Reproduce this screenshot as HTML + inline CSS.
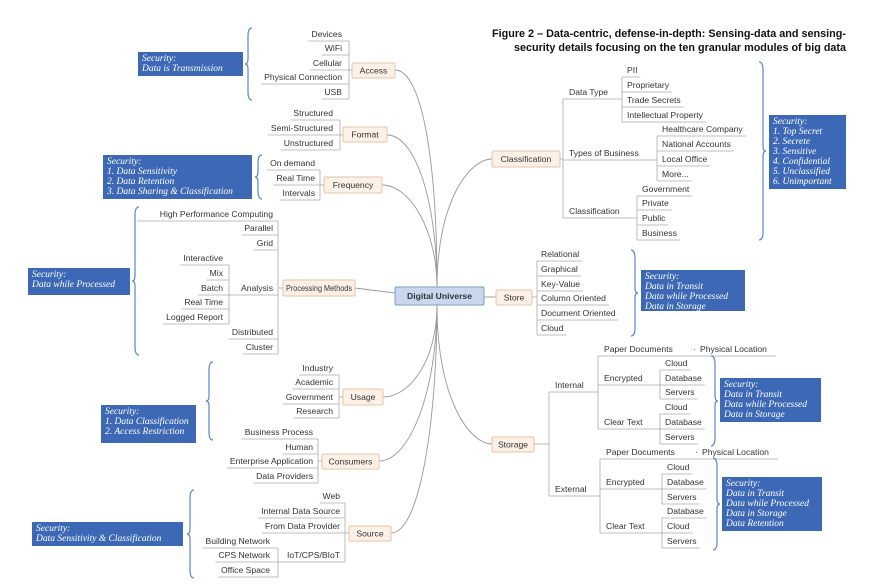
<!DOCTYPE html>
<html><head><meta charset="utf-8"><style>
html,body{margin:0;padding:0;background:#fff;width:885px;height:584px;overflow:hidden}
svg{display:block}
.t{font-family:"Liberation Sans","DejaVu Sans",sans-serif;font-size:8.6px;fill:#333}
.s{font-family:"Liberation Serif","DejaVu Serif",serif;font-size:9.5px;fill:#fff;font-style:italic}
</style></head><body>
<svg id="g" width="885" height="584" xmlns="http://www.w3.org/2000/svg">
<g fill="none" stroke="#999" stroke-width="0.9" id="curves">
<path d="M395,70 C420,70 437,150 437,288"/>
<path d="M387,135 C415,135 437,200 437,288"/>
<path d="M382,185 C410,185 437,230 437,288"/>
<path d="M355,288 L395,293"/>
<path d="M383,397 C410,397 437,360 437,305"/>
<path d="M379,461 C410,461 437,390 437,305"/>
<path d="M391,533 C420,533 437,420 437,305"/>
<path d="M492,159 C470,159 437,200 437,288"/>
<path d="M484,297 L496,297"/>
<path d="M492,444 C470,444 437,400 437,305"/>
</g>
<text x="492" y="37" font-family="Liberation Sans, sans-serif" font-weight="bold" font-size="11" fill="#111" textLength="354" lengthAdjust="spacingAndGlyphs">Figure 2 – Data-centric, defense-in-depth: Sensing-data and sensing-</text>
<text x="514" y="51" font-family="Liberation Sans, sans-serif" font-weight="bold" font-size="11" fill="#111" textLength="332" lengthAdjust="spacingAndGlyphs">security details focusing on the ten granular modules of big data</text>
</svg>
<script>
var S=document.getElementById('g'),NS='http://www.w3.org/2000/svg';
function el(n,a,txt){var e=document.createElementNS(NS,n);for(var k in a)e.setAttribute(k,a[k]);if(txt!=null)e.textContent=txt;S.appendChild(e);return e;}
function line(x1,y1,x2,y2,c){el('line',{x1:x1,y1:y1,x2:x2,y2:y2,stroke:c||'#aaa','stroke-width':0.8});}
function txt(s,x,y,anc,col){var t=el('text',{x:x,y:y+3.2,'class':'t','text-anchor':anc||'start'},s);if(col)t.setAttribute('fill',col);return t.getComputedTextLength();}
function LG(items,bar,gap){gap=gap||5;var ys=[];items.forEach(function(it){var w=txt(it[0],bar-gap,it[1],'end');var x0=(it[2]!=null?it[2]:bar-gap-w-3);line(x0,it[1]+7,bar,it[1]+7);ys.push(it[1]+7);});line(bar,Math.min.apply(0,ys),bar,Math.max.apply(0,ys));}
function RG(items,bar,gap){gap=gap||4;var ys=[];items.forEach(function(it){var w=txt(it[0],bar+gap,it[1],'start');var x1=(it[2]!=null?it[2]:bar+gap+w+3);line(bar,it[1]+7,x1,it[1]+7);ys.push(it[1]+7);});line(bar,Math.min.apply(0,ys),bar,Math.max.apply(0,ys));}
function node(s,x,y,w,h,blue){el('rect',{x:x,y:y,width:w,height:h,rx:1.5,fill:blue?'#c6d7ee':'#fdf1e7',stroke:blue?'#7b9bcb':'#e5c4a6','stroke-width':1});var t=el('text',{x:x+w/2,y:y+h/2+3.2,'class':'t','text-anchor':'middle'},s);if(blue){t.setAttribute('font-weight','bold');t.setAttribute('fill','#444');}if(t.getComputedTextLength()>w-6){t.setAttribute('textLength',w-6);t.setAttribute('lengthAdjust','spacingAndGlyphs');}}
function sec(lines,x,y,w,h){el('rect',{x:x,y:y,width:w,height:h,fill:'#3d68b6'});var sp=10;lines.forEach(function(l,i){el('text',{x:x+4,y:y+9+i*sp,'class':'s'},l);});}
function brace(x,y1,y2,dir){var m=(y1+y2)/2,d=dir;el('path',{d:'M'+(x+4*d)+','+y1+' Q'+x+','+y1+' '+x+','+(y1+8)+' L'+x+','+(m-5)+' Q'+x+','+m+' '+(x-3*d)+','+m+' Q'+x+','+m+' '+x+','+(m+5)+' L'+x+','+(y2-8)+' Q'+x+','+y2+' '+(x+4*d)+','+y2,fill:'none',stroke:'#5b84cc','stroke-width':1.2});}
function conn(x1,y,x2){line(x1,y,x2,y);}

node('Digital Universe',395,287,89,18,true);
LG([['Devices',34],['WiFi',48],['Cellular',63],['Physical Connection',77],['USB',92]],349,7);
conn(349,70,352);node('Access',352,63,43,15);
LG([['Structured',113],['Semi-Structured',128],['Unstructured',143]],340,7);
conn(340,135,343);node('Format',343,127,44,15);
LG([['On demand',163],['Real Time',178],['Intervals',193]],320,5);
conn(320,185,324);node('Frequency',324,177,58,16);
LG([['High Performance Computing',214,137],['Parallel',228],['Grid',243],['Analysis',288,229],['Distributed',332],['Cluster',347]],278,5);
LG([['Interactive',258],['Mix',273],['Batch',288],['Real Time',302],['Logged Report',317]],229,6);
conn(278,288,283);node('Processing Methods',283,280,72,16);
LG([['Industry',368],['Academic',382],['Government',397],['Research',411]],339,6);
conn(339,397,343);node('Usage',343,389,40,16);
LG([['Business Process',432],['Human',447],['Enterprise Application',461],['Data Providers',476]],318,5);
conn(318,461,322);node('Consumers',322,454,57,15);
LG([['Web',496],['Internal Data Source',511],['From Data Provider',526],['IoT/CPS/BIoT',555,278]],345,5);
LG([['Building Network',541],['CPS Network',555],['Office Space',570]],278,8);
conn(345,533,349);node('Source',349,526,42,15);

node('Classification',492,151,68,16);conn(560,159,563);
RG([['Data Type',92,622],['Types of Business',153,657],['Classification',211,637]],563,6);
RG([['PII',70],['Proprietary',85],['Trade Secrets',100],['Intellectual Property',115]],622,5);
RG([['Healthcare Company',129],['National Accounts',144],['Local Office',159],['More...',174]],657,5);
RG([['Government',189],['Private',203],['Public',218],['Business',233]],637,5);
node('Store',496,290,36,15);conn(532,297,537);
RG([['Relational',254],['Graphical',269],['Key-Value',284],['Column Oriented',298],['Document Oriented',313],['Cloud',328]],537,4);
node('Storage',492,437,42,15);conn(534,444,549);
RG([['Internal',385,598],['External',489,600]],549,6);
RG([['Paper Documents',349,776],['Encrypted',378,660],['Clear Text',422,660]],598,6);
txt('Physical Location',700,349,'start','#3b4fa8');txt('·',693,349,'start','#888');
RG([['Cloud',363],['Database',378],['Servers',392]],660,5);
RG([['Cloud',407],['Database',422],['Servers',437]],660,5);
RG([['Paper Documents',452,778],['Encrypted',482,662],['Clear Text',526,662]],600,6);
txt('Physical Location',702,452,'start','#3b4fa8');txt('·',695,452,'start','#888');
RG([['Cloud',467],['Database',482],['Servers',497]],662,5);
RG([['Database',511],['Cloud',526],['Servers',541]],662,5);

sec(['Security:','Data is Transmission'],138,52,105,24);
sec(['Security:','1. Data Sensitivity','2. Data Retention','3. Data Sharing & Classification'],103,155,149,44);
sec(['Security:','Data while Processed'],28,268,102,27);
sec(['Security:','1. Data Classification','2. Access Restriction'],101,405,95,38);
sec(['Security:','Data Sensitivity & Classification'],32,522,151,24);
sec(['Security:','1. Top Secret','2. Secrete','3. Sensitive','4. Confidential','5. Unclassified','6. Unimportant'],769,115,77,74);
sec(['Security:','Data in Transit','Data while Processed','Data in Storage'],641,270,104,41);
sec(['Security:','Data in Transit','Data while Processed','Data in Storage'],720,378,101,44);
sec(['Security:','Data in Transit','Data while Processed','Data in Storage','Data Retention'],722,477,100,54);
brace(248,28,100,1);brace(258,155,199,1);brace(135,207,355,1);brace(209,362,440,1);brace(190,490,578,1);
brace(763,62,240,-1);brace(635,250,336,-1);brace(715,356,446,-1);brace(717,458,550,-1);
</script>
</body></html>
